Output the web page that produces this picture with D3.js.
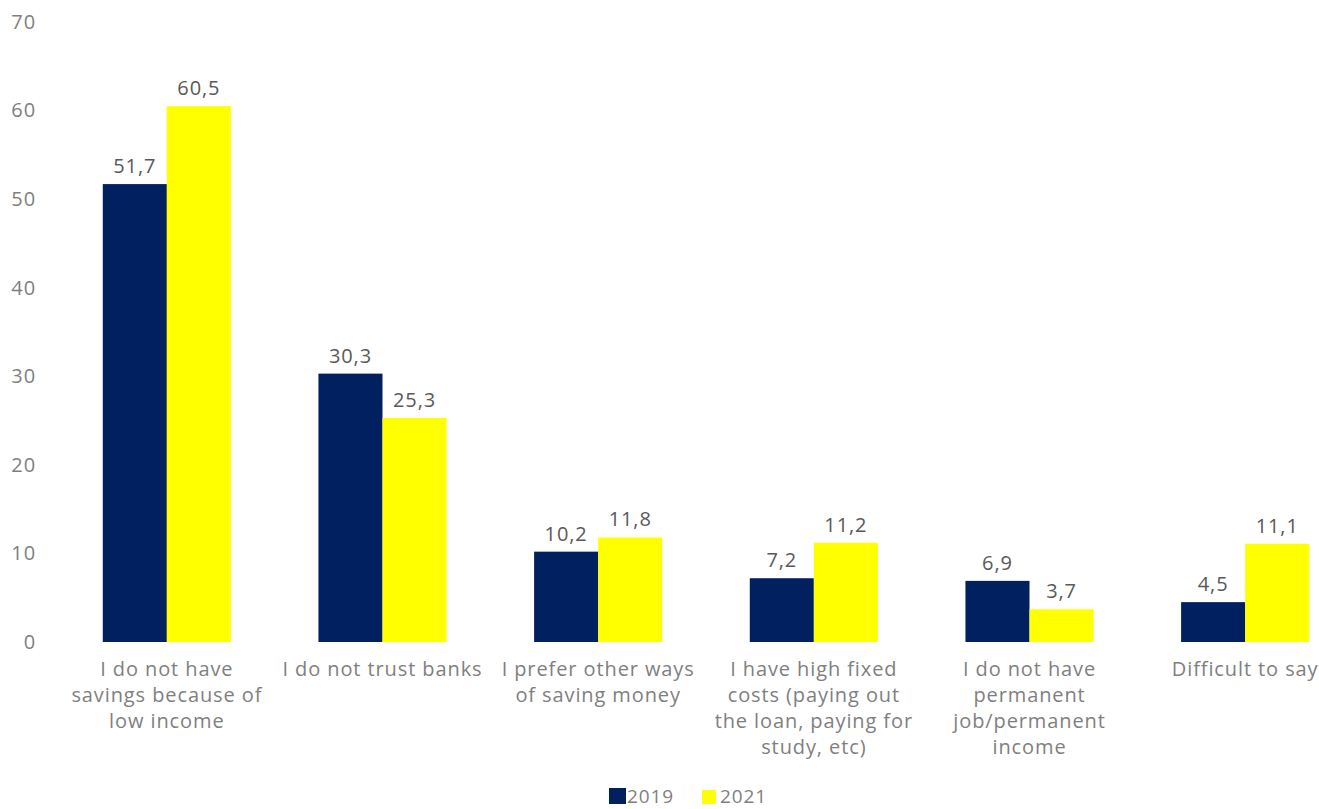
<!DOCTYPE html>
<html>
<head>
<meta charset="utf-8">
<script src="https://cdn.jsdelivr.net/npm/d3@7"></script>
<style>
  html, body { margin: 0; padding: 0; background: #fff; }
  svg { display: block; font-family: "Open Sans", Lato, sans-serif; letter-spacing: 0.9px; }
</style>
</head>
<body>
<svg id="chart" width="1319" height="809"></svg>
<script>
// Reasons for not holding savings in a bank, % of respondents
const categories = [
  "I do not have\nsavings because of\nlow income",
  "I do not trust banks",
  "I prefer other ways\nof saving money",
  "I have high fixed\ncosts (paying out\nthe loan, paying for\nstudy, etc)",
  "I do not have\npermanent\njob/permanent\nincome",
  "Difficult to say"
];
const seriesNames = ["2019", "2021"];
const values2019 = [51.7, 30.3, 10.2, 7.2, 6.9, 4.5];
const values2021 = [60.5, 25.3, 11.8, 11.2, 3.7, 11.1];
const yTicks = [0, 10, 20, 30, 40, 50, 60, 70];
const colors = ["#002060", "#FFFF00"];

const textColor = "#7f7f7f";
const valueColor = "#595959";
const fontSize = "20px";
const svg = d3.select("#chart");

const rows = categories.map((c, i) => ({
  category: c,
  values: [values2019[i], values2021[i]]
}));

const x = d3.scaleBand()
  .domain(categories)
  .range([59, 1353])
  .paddingInner(0.406)
  .paddingOuter(0.203);

const xs = d3.scaleBand()
  .domain(seriesNames)
  .range([0, x.bandwidth()]);

const y = d3.scaleLinear()
  .domain([0, 70])
  .range([642, 22]);

// y axis labels only (no line, no ticks, no gridlines)
const yAxis = d3.axisLeft(y).tickValues(yTicks).tickSize(0).tickPadding(0)
  .tickFormat(d3.format("d"));
svg.append("g")
  .attr("transform", "translate(36,0)")
  .call(yAxis)
  .call(g => g.select(".domain").remove())
  .call(g => g.selectAll("text")
    .attr("fill", textColor)
    .style("font-size", fontSize)
    .style("font-family", "\"Open Sans\", Lato, sans-serif"));

const fmt = v => d3.format(".1f")(v).replace(".", ",");

const groups = svg.append("g").selectAll("g")
  .data(rows)
  .join("g")
  .attr("transform", d => `translate(${x(d.category)},0)`);

groups.selectAll("rect")
  .data(d => d.values.map((v, i) => ({ key: seriesNames[i], v, i })))
  .join("rect")
  .attr("x", d => xs(d.key))
  .attr("y", d => y(d.v))
  .attr("width", xs.bandwidth())
  .attr("height", d => y(0) - y(d.v))
  .attr("fill", d => colors[d.i]);

groups.selectAll("text.value")
  .data(d => d.values.map((v, i) => ({ key: seriesNames[i], v, i })))
  .join("text")
  .attr("class", "value")
  .attr("x", d => xs(d.key) + xs.bandwidth() / 2)
  .attr("y", d => y(d.v) - 11)
  .attr("text-anchor", "middle")
  .attr("fill", valueColor)
  .style("font-size", fontSize)
  .text(d => fmt(d.v));

// Category labels, wrapped onto several lines
const xAxis = d3.axisBottom(x).tickSize(0).tickPadding(0);
svg.append("g")
  .attr("transform", `translate(0,${y(0)})`)
  .call(xAxis)
  .call(g => g.select(".domain").remove())
  .call(g => g.selectAll(".tick text").each(function (d) {
    const t = d3.select(this);
    t.text(null)
      .attr("y", null).attr("dy", null)
      .attr("fill", textColor)
      .style("font-size", fontSize)
      .style("font-family", "\"Open Sans\", Lato, sans-serif");
    d.split("\n").forEach((line, k) => {
      t.append("tspan").attr("x", 0).attr("y", 34 + k * 26).text(line);
    });
  }));

// Legend
const legend = svg.append("g").attr("transform", "translate(609,782)");
const legendItems = legend.selectAll("g")
  .data(seriesNames)
  .join("g")
  .attr("transform", (d, i) => `translate(${i * 93},0)`);
legendItems.append("rect")
  .attr("y", (d, i) => i === 0 ? 6 : 8)
  .attr("width", (d, i) => i === 0 ? 17 : 14)
  .attr("height", (d, i) => i === 0 ? 16 : 14)
  .attr("fill", (d, i) => colors[i]);
legendItems.append("text")
  .attr("x", 18)
  .attr("y", 21)
  .attr("fill", textColor)
  .style("font-size", "19px")
  .text(d => d);
</script>
</body>
</html>
